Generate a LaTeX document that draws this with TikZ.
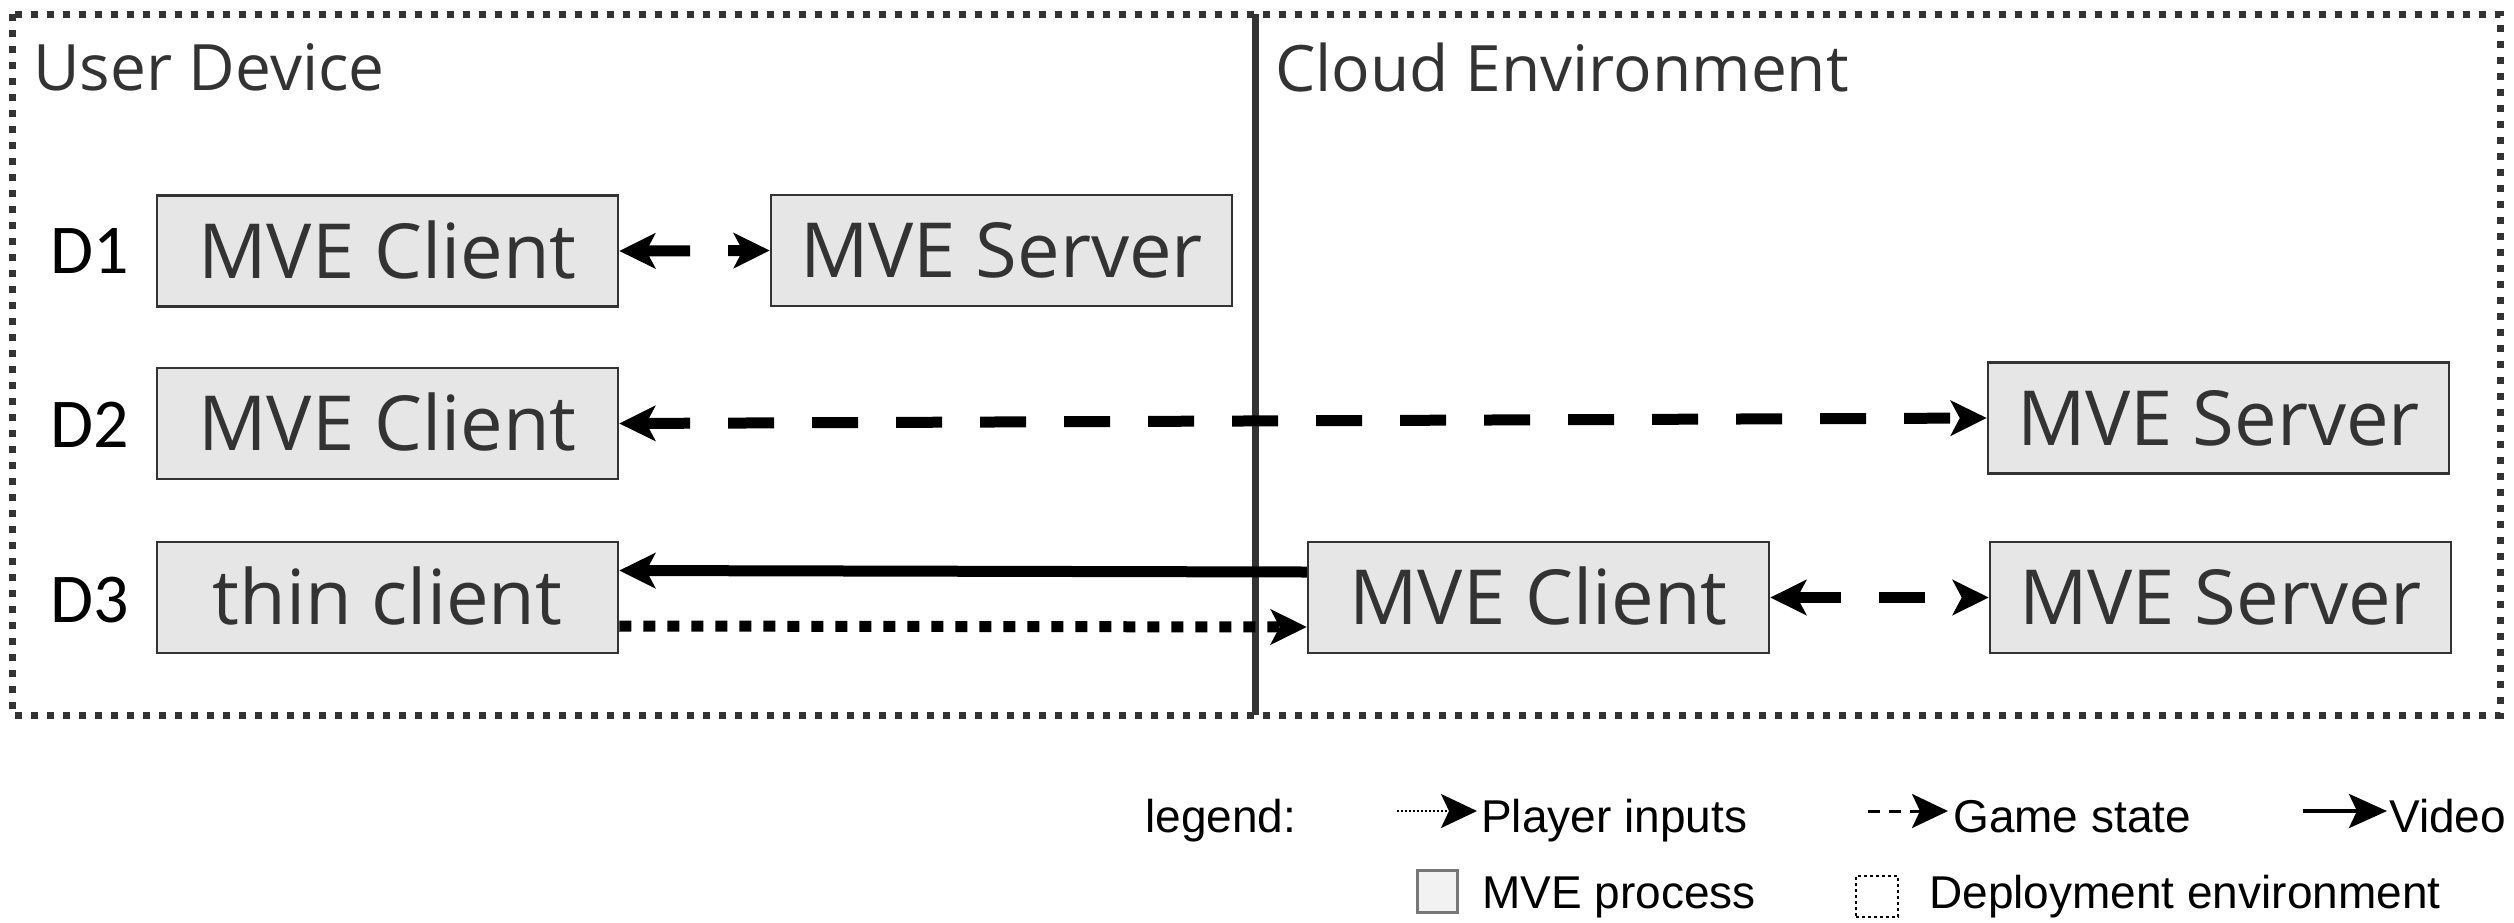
\documentclass[tikz,border=0pt]{standalone}
\usepackage{fontspec}
\newfontfamily\osans{Open Sans}
\newfontfamily\carl{Carlito}
\newfontfamily\lsans{Liberation Sans}
\usetikzlibrary{arrows.meta}
\definecolor{boxfill}{HTML}{E6E6E6}
\definecolor{dk}{HTML}{333333}
\definecolor{legfill}{HTML}{F2F2F2}
\definecolor{leggray}{HTML}{777777}
\tikzset{
  proc/.style={draw=dk, line width=2.5pt, fill=boxfill, minimum width=461pt,
    minimum height=111pt, inner sep=0pt, text=dk,
    font=\osans\fontsize{76}{80}\selectfont, text height=54pt, text depth=0pt},
  dlabel/.style={anchor=base west, inner sep=0pt, text=black,
    font=\carl\fontsize{70}{80}\selectfont},
  heading/.style={anchor=base west, inner sep=0pt, text=dk,
    font=\osans\fontsize{64}{70}\selectfont},
  legtext/.style={anchor=base west, inner sep=0pt, text=black,
    font=\lsans\fontsize{46}{50}\selectfont},
  conn/.style={line width=11pt, black},
  bigtip/.tip={Stealth[length=36pt,width=35pt,inset=9pt]},
  smalltip/.tip={Stealth[length=36pt,width=34pt,inset=8pt]},
  gamestate/.style={conn, dash pattern=on 46pt off 38pt},
  playerin/.style={conn, dash pattern=on 12pt off 12pt},
  envborder/.style={draw=dk, line width=7pt, dash pattern=on 7pt off 9pt},
}
\begin{document}
\begin{tikzpicture}[x=1pt,y=-1pt]
\useasboundingbox (0,0) rectangle (2514,922);

% deployment environments
\draw[envborder] (12,14) rectangle (2500,715);
\draw[dk, line width=7pt] (1255,14) -- (1255,715);
\node[heading] (ud) at (33,90) {User Device};
\node[heading] (ce) at (1275,91) {Cloud Environment};

% row labels
\node[dlabel] (d1) at (50,273) {D1};
\node[dlabel] (d2) at (50,447) {D2};
\node[dlabel] (d3) at (50,622) {D3};

% processes
\node[proc] (c1) at (387.5,251) {MVE Client};
\node[proc] (s1) at (1001.5,250.5) {MVE Server};
\node[proc] (c2) at (387.5,423.5) {MVE Client};
\node[proc] (s2) at (2218.5,418) {MVE Server};
\node[proc] (t3) at (387.5,597.5) {thin client};
\node[proc] (c3) at (1538.5,597.5) {MVE Client};
\node[proc] (s3) at (2220.5,597.5) {MVE Server};

% connectors
\draw[gamestate, {bigtip}-{bigtip}] (c1.east) -- (s1.west);
\draw[gamestate, {bigtip}-{bigtip}] (c2.east) -- (s2.west);
\draw[gamestate, {bigtip}-{bigtip}] (c3.east) -- (s3.west);
\draw[conn, -{bigtip}] ([yshift=25.5pt]c3.west) -- ([yshift=27pt]t3.east);
\draw[playerin, -{bigtip}] ([yshift=-28.5pt]t3.east) -- ([yshift=-29.5pt]c3.west);

% legend
\node[legtext] (lg) at (1145,832) {legend:};
\coordinate (pia) at (1397,811);
\coordinate (pib) at (1477,811);
\draw[black, line width=2pt, dash pattern=on 2pt off 2pt, -{smalltip}] (pia) -- (pib);
\node[legtext] (pit) at (1481,832) {Player inputs};
\coordinate (gsa) at (1868,811);
\coordinate (gsb) at (1948,811);
\draw[black, line width=3pt, dash pattern=on 12pt off 9pt, -{smalltip}] (gsa) -- (gsb);
\node[legtext] (gst) at (1953,832) {Game state};
\coordinate (via) at (2303,811);
\coordinate (vib) at (2387,811);
\draw[black, line width=4.5pt, -{Stealth[length=38pt,width=34pt,inset=8pt]}] (via) -- (vib);
\node[legtext] (vit) at (2389,832) {Video};
\node[draw=leggray, fill=legfill, line width=3pt, minimum width=40pt, minimum height=42pt, inner sep=0pt] (lp) at (1437,891) {};
\node[legtext] (lpt) at (1482,908) {MVE process};
\node[draw=black, line width=2pt, dash pattern=on 3pt off 3pt, minimum width=42pt, minimum height=41pt, inner sep=0pt] (le) at (1877,896.5) {};
\node[legtext] (let) at (1929,908) {Deployment environment};
\end{tikzpicture}
\end{document}
